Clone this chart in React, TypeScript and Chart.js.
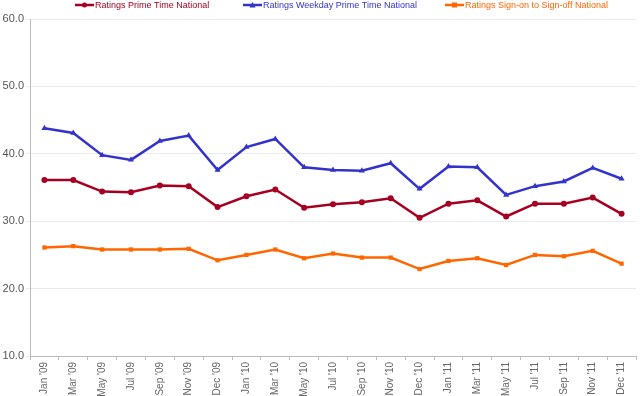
import React, { useEffect, useRef } from "react";
import { Chart, registerables } from "chart.js";

Chart.register(...registerables);

const categories = ["Jan '09", "Mar '09", "May '09", "Jul '09", "Sep '09", "Nov '09", "Dec '09", "Jan '10", "Mar '10", "May '10", "Jul '10", "Sep '10", "Nov '10", "Dec '10", "Jan '11", "Mar '11", "May '11", "Jul '11", "Sep '11", "Nov '11", "Dec '11"];
const primeTime = [36.1, 36.1, 34.4, 34.3, 35.3, 35.2, 32.1, 33.7, 34.7, 32.0, 32.5, 32.8, 33.4, 30.5, 32.6, 33.1, 30.7, 32.6, 32.6, 33.5, 31.1];
const weekdayPrimeTime = [43.8, 43.1, 39.8, 39.1, 41.9, 42.7, 37.6, 41.0, 42.2, 38.0, 37.6, 37.5, 38.6, 34.8, 38.1, 38.0, 33.9, 35.2, 35.9, 37.9, 36.3];
const signOnOff = [26.1, 26.3, 25.8, 25.8, 25.8, 25.9, 24.2, 25.0, 25.8, 24.5, 25.2, 24.6, 24.6, 22.9, 24.1, 24.5, 23.5, 25.0, 24.8, 25.6, 23.7];
const seriesNames = ["Ratings Prime Time National", "Ratings Weekday Prime Time National", "Ratings Sign-on to Sign-off National"];
const seriesColors = ["#A50021", "#3333CC", "#FF6600"];
const seriesMarkers = ["circle", "triangle", "rect"];
const legendX = [75, 243, 445];

const FONT = "'Liberation Sans', Arial, sans-serif";

const legendPlugin = {
  id: "customLegend",
  afterDraw(chart: any) {
    const ctx = chart.ctx;
    ctx.save();
    ctx.font = `9px ${FONT}`;
    ctx.textBaseline = "middle";
    const y = 5;
    chart.data.datasets.forEach((ds: any, i: number) => {
      const x0 = legendX[i];
      ctx.strokeStyle = ds.borderColor;
      ctx.lineWidth = 2.5;
      ctx.beginPath();
      ctx.moveTo(x0, y);
      ctx.lineTo(x0 + 19, y);
      ctx.stroke();
      ctx.fillStyle = ds.borderColor;
      const cx = x0 + 9.5;
      if (seriesMarkers[i] === "circle") {
        ctx.beginPath();
        ctx.arc(cx, y, 2.5, 0, Math.PI * 2);
        ctx.fill();
      } else if (seriesMarkers[i] === "triangle") {
        ctx.beginPath();
        ctx.moveTo(cx, y - 3);
        ctx.lineTo(cx + 3, y + 2.5);
        ctx.lineTo(cx - 3, y + 2.5);
        ctx.closePath();
        ctx.fill();
      } else {
        ctx.fillRect(cx - 2.5, y - 2.5, 5, 5);
      }
      ctx.fillText(ds.label, x0 + 20, y + 0.5);
    });
    ctx.restore();
  },
};

export default function App() {
  const ref = useRef<HTMLCanvasElement>(null);
  useEffect(() => {
    if (!ref.current) return;
    const data = [primeTime, weekdayPrimeTime, signOnOff];
    const chart = new Chart(ref.current, {
      type: "line",
      data: {
        labels: categories,
        datasets: data.map((d, i) => ({
          label: seriesNames[i],
          data: d,
          borderColor: seriesColors[i],
          backgroundColor: seriesColors[i],
          borderWidth: 2.5,
          pointStyle: seriesMarkers[i] as any,
          pointRadius: i === 1 ? 3.5 : 3,
          pointBorderWidth: 0,
          tension: 0,
          fill: false,
        })),
      },
      options: {
        animation: false,
        responsive: false,
        maintainAspectRatio: false,
        layout: { padding: { top: 19, right: 1, left: 0, bottom: 0 } },
        plugins: { legend: { display: false }, tooltip: { enabled: false } },
        scales: {
          x: {
            offset: true,
            grid: { display: true, drawOnChartArea: false, offset: true, color: "#bbbbbb", tickLength: 4 },
            border: { color: "#bbbbbb" },
            ticks: { color: "#666666", font: { family: FONT, size: 10 }, minRotation: 90, maxRotation: 90, autoSkip: false, padding: 2 },
            afterFit: (s: any) => { s.height = 40; },
          },
          y: {
            min: 10,
            max: 60,
            ticks: { stepSize: 10, color: "#555555", font: { family: FONT, size: 11 }, padding: 2, callback: (v: any) => Number(v).toFixed(1) },
            grid: { color: "#ebebeb", tickLength: 4 },
            border: { color: "#bbbbbb" },
            afterFit: (s: any) => { s.width = 30; },
          },
        },
      },
      plugins: [legendPlugin],
    });
    return () => chart.destroy();
  }, []);
  return (
    <div style={{ position: "absolute", left: 0, top: 0, width: 640, height: 396, background: "#fff" }}>
      <canvas ref={ref} width={640} height={396} />
    </div>
  );
}
